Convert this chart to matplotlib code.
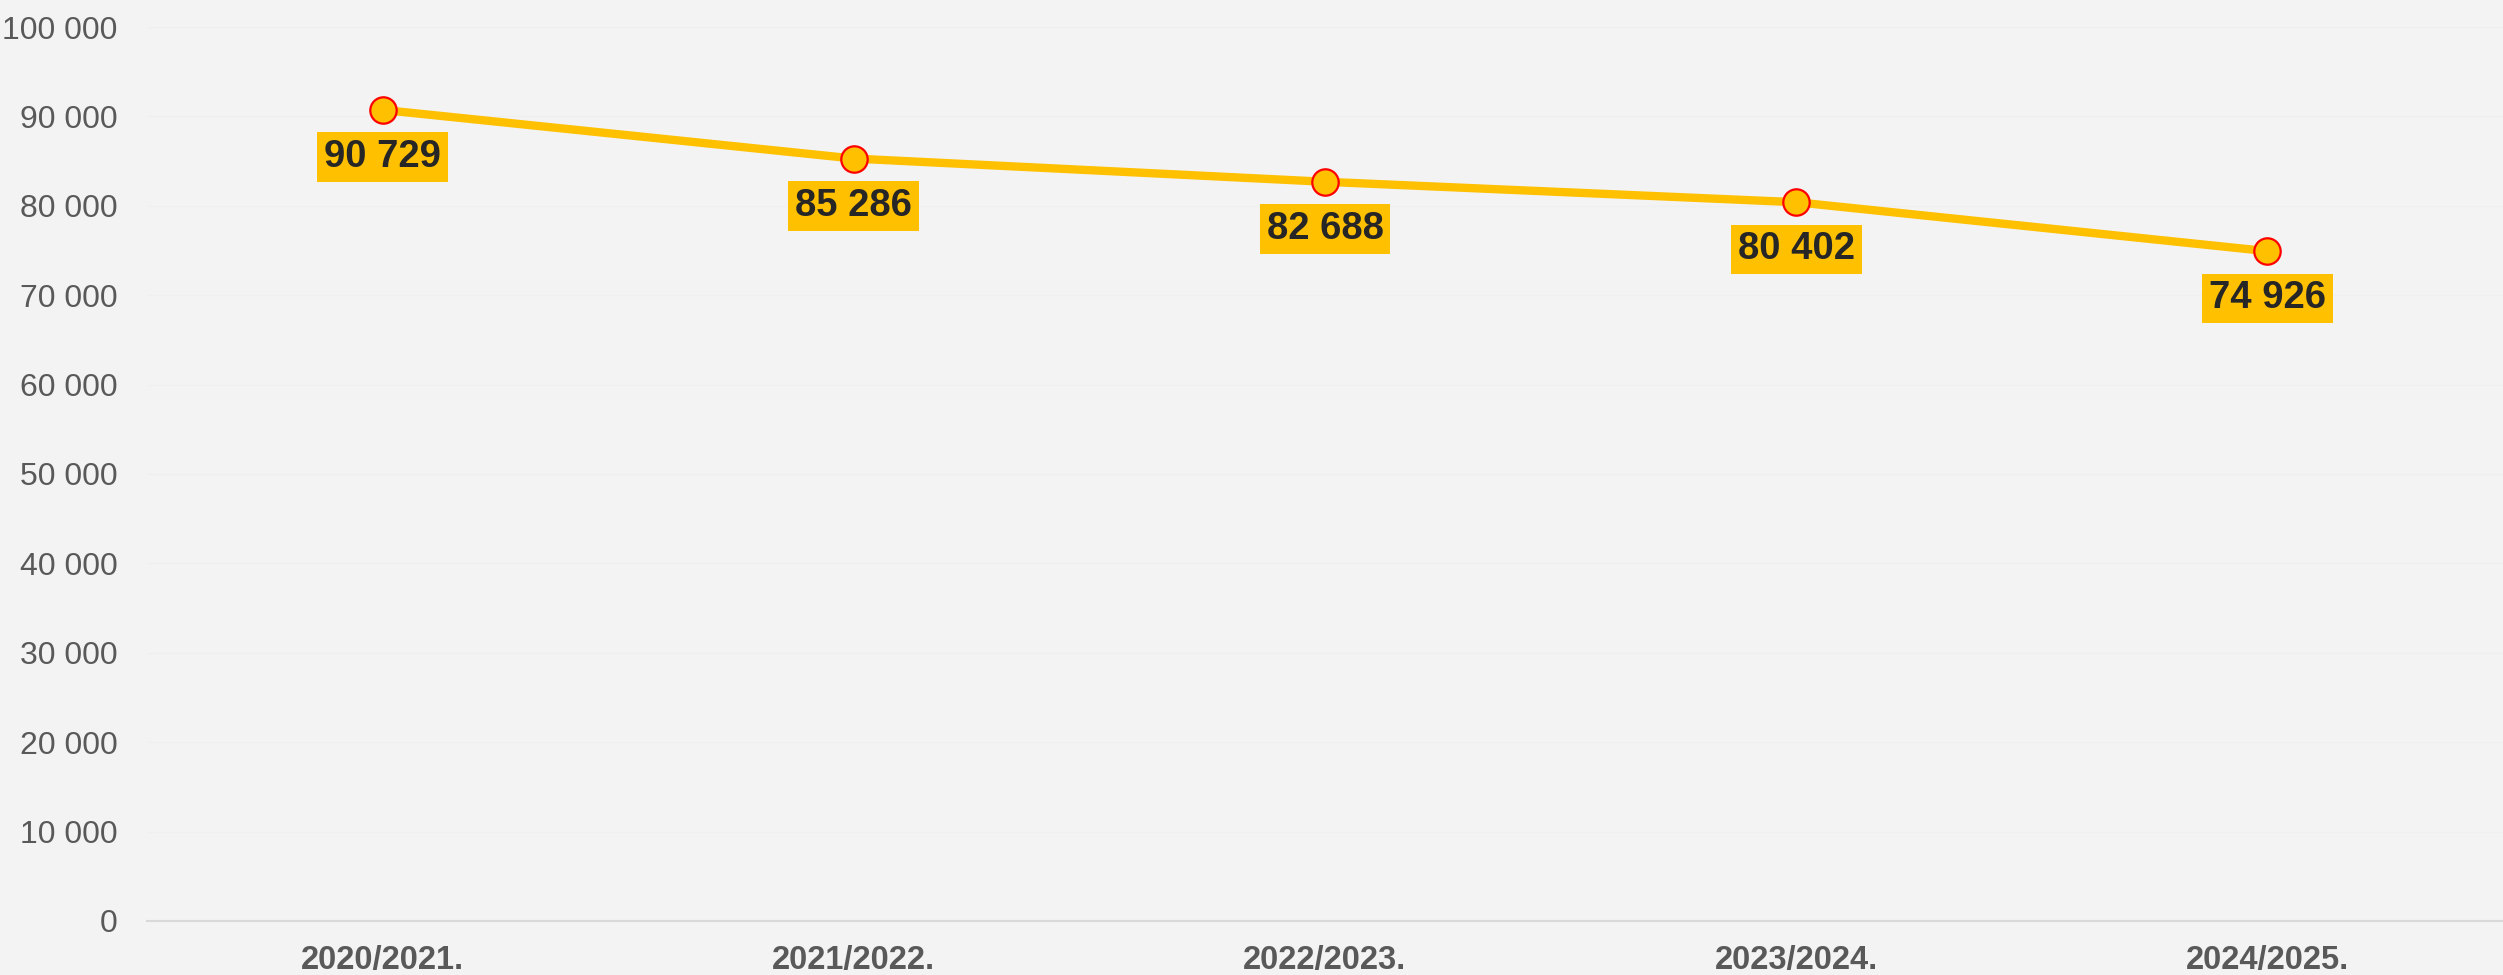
import numpy as np
import matplotlib.pyplot as plt

# data
years = ["2020/2021.", "2021/2022.", "2022/2023.", "2023/2024.", "2024/2025."]
students = [90729, 85286, 82688, 80402, 74926]
yticks = [0, 10000, 20000, 30000, 40000, 50000, 60000, 70000, 80000, 90000, 100000]

plt.rcParams['font.family'] = ['Liberation Sans', 'DejaVu Sans']

bg = "#f3f3f3"
gold = "#ffc000"

fig = plt.figure(figsize=(25.03, 9.75), dpi=100, facecolor=bg)
ax = fig.add_axes([0.0587, 0.0554, 0.9413, 0.9169], facecolor=bg)

x = np.arange(len(years))
ax.plot(x, students, color=gold, lw=6, solid_capstyle="butt", zorder=3)
ax.plot(x, students, "o", ms=19, mfc=gold, mec="#ff0000", mew=1.6, zorder=4)

# value labels below the points
for xi, v in zip(x, students):
    label = f"{v:,}".replace(",", " ")
    ax.annotate(label, (xi, v), xytext=(0, -34), textcoords="offset points",
                ha="center", va="center", fontsize=27.5, fontweight="bold",
                color="#262626", zorder=5,
                bbox=dict(boxstyle="square,pad=0.18", fc=gold, ec="none"))

ax.set_xlim(-0.5, len(years) - 0.5)
ax.set_ylim(0, 100000)
ax.set_yticks(yticks)
ax.set_yticklabels([f"{t:,}".replace(",", " ") for t in yticks])
ax.set_xticks(x)
ax.set_xticklabels(years, fontweight="bold")

ax.tick_params(axis="y", length=0, pad=21, labelsize=23, labelcolor="#595959")
ax.tick_params(axis="x", length=0, pad=17, labelsize=23.5, labelcolor="#595959")

ax.grid(axis="y", color="#efefef", lw=1)
ax.set_axisbelow(True)
for s in ["top", "right", "left"]:
    ax.spines[s].set_visible(False)
ax.spines["bottom"].set_color("#d9d9d9")
ax.spines["bottom"].set_linewidth(1.5)

fig.savefig("out.png", dpi=100, facecolor=bg)
